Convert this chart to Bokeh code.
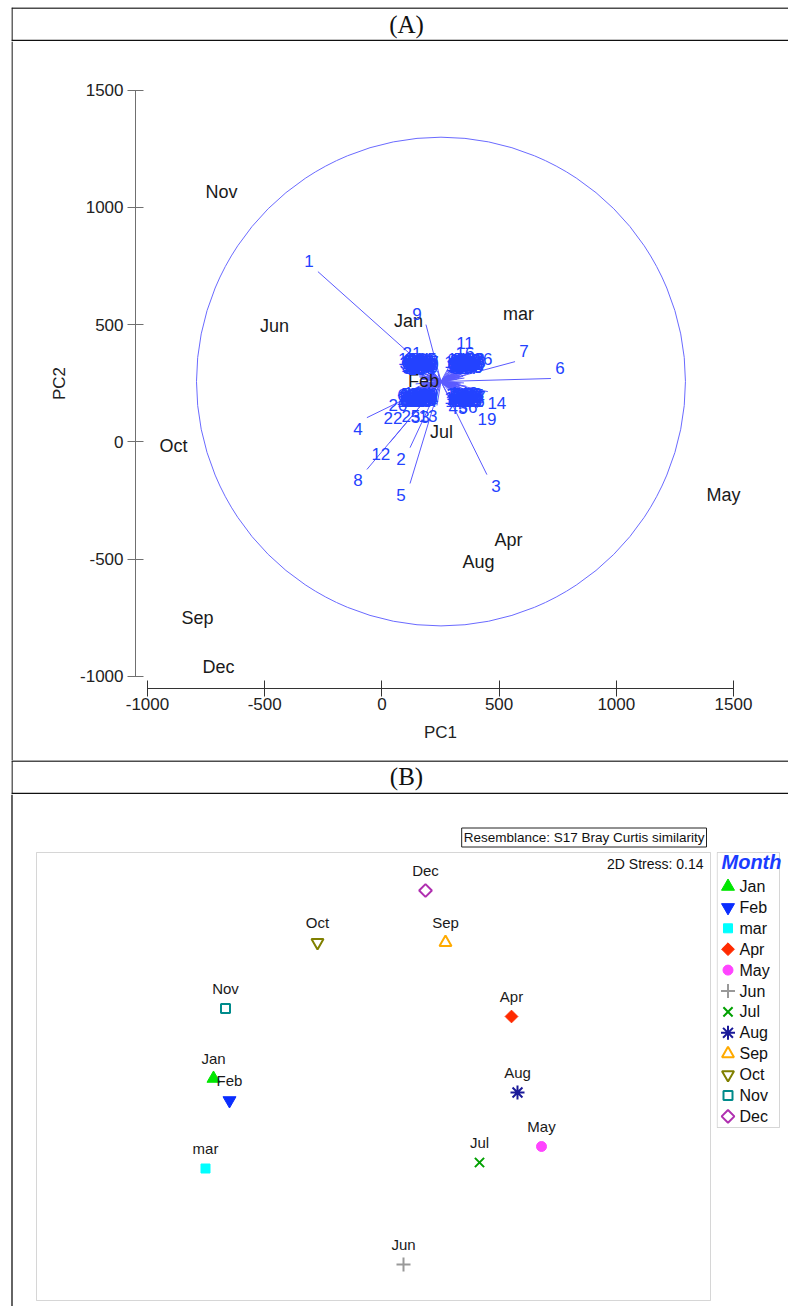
import math
from bokeh.plotting import figure
from bokeh.models import Range1d, ColumnDataSource, Label, BoxAnnotation, FixedTicker, Span
from bokeh.layouts import column, row
from bokeh.embed import file_html
from bokeh.resources import INLINE
from bokeh.core.properties import value

SANS = "Liberation Sans"
SERIF = "Liberation Serif"

# ---------------- data: panel (A) PCA biplot ----------------
months = ["Jan", "Feb", "mar", "Apr", "May", "Jun", "Jul", "Aug", "Sep", "Oct", "Nov", "Dec"]
pc1_scores = [114, 177, 583, 540, 1457, -458, 254, 412, -787, -889, -684, -697]
pc2_scores = [517, 261, 547, -417, -225, 496, 40, -511, -750, -20, 1064, -959]

circle_cx = 252
circle_cy = 257
circle_r = 1043

vec_labels = ["1", "2", "3", "4", "5", "6", "7", "8", "9", "11", "12", "13", "14", "16",
              "19", "20", "21", "22", "25", "26", "33", "36", "45",
              "10", "15", "17", "18", "23", "24", "27", "28", "29", "30", "31", "32", "34",
              "35", "37", "38", "39", "40", "41", "42", "43", "44", "46", "47", "48", "49",
              "50", "51", "52", "53", "54", "55", "56", "57", "58", "59", "60", "61", "62",
              "63", "64", "65", "66", "67", "68", "69", "70", "71", "72", "73", "74", "75",
              "76", "77", "78", "79", "80", "81", "82", "83", "84", "85", "86", "87", "88",
              "89", "90", "91",
              "92", "93", "94", "95", "96", "97", "98", "99", "100", "101", "102", "103",
              "104", "105", "106", "107", "108", "109", "110", "111", "112", "113", "114",
              "115", "116", "117", "118", "119", "120", "121", "122", "123", "124", "125",
              "126", "127", "128", "129", "130", "131", "132", "133", "134", "135", "136",
              "137", "138", "139", "140", "141", "142", "143", "144", "145", "146", "147",
              "148", "149", "150", "151", "152", "153", "154", "155", "156", "157", "158", "159"]
vec_dx = [-525, -132, 196, -316, -132, 469, 316, -316, -64, 64, -218, -17, 200, 64,
          158, -145, -85, -166, -90, 141, -50, 77, 34,
          -105, -92, -80, -70, -60, -50, -40, -30, -20, -15, -98, -85, -65, -55, -45, -35, -25, -12,
          30, 40, 50, 60, 70, 80, 90, 100, 108, 35, 45, 55, 65, 75, 85, 95, 105, 28,
          -108, -95, -85, -75, -62, -52, -42, -32, -22, -14, -100, -70, -48, -28, -18, -90,
          28, 38, 48, 58, 68, 78, 88, 98, 108, 33, 43, 53, 63, 73, 83, 103,
          -92, -88, -84, -80, -76, -72, -68, -64, -60, -56, -52, -48, -44, -40, -36, -32, -62,
          36, 40, 44, 48, 52, 56, 60, 64, 68, 72, 76, 80, 84, 88, 92, 50, 70,
          -92, -88, -84, -80, -76, -72, -68, -64, -60, -56, -52, -48, -44, -40, -36, -32, -58,
          36, 40, 44, 48, 52, 56, 60, 64, 68, 72, 76, 80, 84, 88, 92, 46, 66]
vec_dy = [469, -282, -397, -154, -435, 13, 85, -375, 243, 119, -260, -102, -43, 77,
          -111, -51, 77, -107, -98, 51, -106, -60, -64,
          48, 20, 40, 12, 30, 50, 15, 38, 25, 45, 32, 10, 45, 18, 35, 22, 10, 30,
          45, 20, 35, 12, 48, 25, 40, 15, 30, 28, 10, 50, 30, 18, 45, 22, 48, 14,
          -10, -30, -18, -36, -8, -25, -38, -14, -30, -6, -22, -28, -12, -22, -36, -6,
          -12, -30, -8, -22, -36, -14, -28, -6, -20, -38, -18, -32, -10, -26, -38, -34,
          25, 15, 42, 28, 50, 22, 35, 8, 42, 24, 46, 30, 8, 48, 16, 36, 20,
          35, 22, 50, 32, 18, 44, 26, 40, 10, 34, 46, 14, 30, 50, 36, 24, 42,
          -28, -36, -14, -38, -8, -26, -16, -34, -4, -28, -20, -34, -10, -20, -28, -14, -30,
          -24, -36, -6, -28, -38, -16, -4, -34, -20, -8, -36, -22, -10, -36, -18, -26, -10]

axis_ticks = [-1000, -500, 0, 500, 1000, 1500]

# ---------------- data: panel (B) nMDS ----------------
mds_x = [-0.80, -0.72, -0.84, 0.69, 0.84, 0.15, 0.53, 0.72, 0.36, -0.28, -0.74, 0.26]
mds_y = [-0.01, -0.12, -0.46, 0.30, -0.35, -0.94, -0.43, -0.08, 0.67, 0.67, 0.34, 0.93]
stress_text = "2D Stress: 0.14"
resemblance_text = "Resemblance: S17 Bray Curtis similarity"

# marker styles per month
m_marker = ["triangle", "inverted_triangle", "square", "square", "circle", "cross", "x",
            "asterisk", "triangle", "inverted_triangle", "square", "square"]
m_angle = [0, 0, 0, math.pi / 4, 0, 0, 0, 0, 0, 0, 0, math.pi / 4]
m_size = [13, 13, 9, 9, 10, 14, 13, 14, 12, 12, 9, 9]
m_color = ["#00e600", "#0a2dff", "#00ffff", "#ff2a00", "#ff44ff", "#999999", "#00a000",
           "#1a1a99", "#ffaa00", "#808000", "#008b8b", "#b030b0"]
m_fill_alpha = [1, 1, 1, 1, 1, 0, 0, 0, 0, 0, 0, 0]
m_line_width = [1, 1, 1, 1, 1, 2, 2, 2, 2, 2, 2, 2]

BORDER = "#111111"
BW = 1.3
W = 788
LEFT = 11  # page x of the table's left border


def bare(width, height, xr, yr, **kw):
    p = figure(width=width, height=height, x_range=xr, y_range=yr, min_border=0,
               toolbar_location=None, output_backend="svg", title=None,
               x_axis_location=None, y_axis_location=None, **kw)
    p.outline_line_color = None
    p.grid.visible = False
    return p


def border_v(x):
    return Span(location=x, dimension="height", line_color=BORDER, line_width=BW)


def border_h(y):
    return Span(location=y, dimension="width", line_color=BORDER, line_width=BW)


def header(txt, page_top, page_bottom, top_line, bottom_line, text_y, frame_top=0):
    h = page_bottom - page_top
    p = bare(W, h, Range1d(LEFT, W), Range1d(page_bottom, page_top + frame_top),
             min_border_left=LEFT, min_border_top=frame_top)
    p.add_layout(border_h(top_line))
    p.add_layout(border_h(bottom_line))
    p.add_layout(border_v(LEFT + 0.5))
    p.add_layout(Label(x=406, y=text_y, text=txt, text_align="center", text_baseline="middle",
                       text_font=SERIF, text_font_size="25px", text_color="#111111"))
    return p


hA = header("(A)", 0, 41, 7.5, 40, 23.5, frame_top=7)
hB = header("(B)", 760, 794, 760.5, 793, 776)

# ---------------- panel (A) ----------------
UPP = 500 / 117.2  # data units per pixel (equal aspect)
X0_PX, Y0_PX = 147, 675.7  # page pixel of (-1000, -1000)
xA = Range1d(-1000 + (LEFT - X0_PX) * UPP, -1000 + (W - X0_PX) * UPP)
yA = Range1d(-1000 - (760 - Y0_PX) * UPP, -1000 + (Y0_PX - 41) * UPP)
pA = figure(width=W, height=719, x_range=xA, y_range=yA, min_border=0, min_border_left=LEFT,
            title=None, toolbar_location=None, output_backend="svg",
            x_axis_label="PC1", y_axis_label="PC2")
pA.outline_line_color = None
pA.grid.visible = False
axis_pos = -1000 - 12 * UPP
for ax in (pA.xaxis[0], pA.yaxis[0]):
    ax.fixed_location = axis_pos
    ax.ticker = FixedTicker(ticks=axis_ticks)
    ax.major_label_overrides = {t: str(t) for t in axis_ticks}
    ax.bounds = (-1000, 1500)
    ax.major_tick_in = 8
    ax.major_tick_out = 8
    ax.minor_tick_line_color = None
    ax.major_label_text_font = SANS
    ax.major_label_text_font_size = "17px"
    ax.major_label_text_color = "#222222"
    ax.axis_label_text_font = SANS
    ax.axis_label_text_font_size = "17px"
    ax.axis_label_text_font_style = "normal"
    ax.axis_label_text_color = "#222222"
pA.yaxis.axis_line_color = "#707070"
pA.yaxis.major_tick_line_color = "#707070"
pA.xaxis.axis_line_color = "#333333"
pA.xaxis.major_tick_line_color = "#333333"
pA.yaxis.major_label_standoff = 4
pA.xaxis.major_label_standoff = 2
pA.yaxis.axis_label_standoff = 8
pA.xaxis.axis_label_standoff = 9

pA.add_layout(border_v(xA.start + 0.5 * UPP))

pA.circle(x=[circle_cx], y=[circle_cy], radius=circle_r, fill_color=None,
          line_color="#6a6aff", line_width=1)

tip_x = [circle_cx + d for d in vec_dx]
tip_y = [circle_cy + d for d in vec_dy]
x_off = [9 if d > 0 else -9 for d in vec_dx]
y_off = [-11 if d > 0 else 11 for d in vec_dy]
vsrc = ColumnDataSource(dict(x0=[circle_cx] * len(vec_dx), y0=[circle_cy] * len(vec_dy),
                             x1=tip_x, y1=tip_y, t=vec_labels, xo=x_off, yo=y_off))
pA.segment(x0="x0", y0="y0", x1="x1", y1="y1", source=vsrc, line_color="#5a5aff", line_width=1)

msrc = ColumnDataSource(dict(x=pc1_scores, y=pc2_scores, t=months))
pA.text(x="x", y="y", text="t", source=msrc, text_align="center", text_baseline="middle",
        text_font=value(SANS), text_font_size="18px", text_color="#1a1a1a")

pA.text(x="x1", y="y1", text="t", source=vsrc, x_offset="xo", y_offset="yo",
        text_align="center", text_baseline="middle", text_font=value(SANS),
        text_font_size="17px", text_color="#2342ff")

# ---------------- panel (B) ----------------
BS = 200.0  # pixels per MDS unit
BX0, BY0 = 373, 1076  # page pixel of MDS origin
BTOP, BH = 794, 512
xB = Range1d((0 - BX0) / BS, (716 - BX0) / BS)
yB = Range1d((BY0 - (BTOP + BH)) / BS, (BY0 - BTOP) / BS)
pB = bare(716, BH, xB, yB)

pB.add_layout(BoxAnnotation(left=(36 - BX0) / BS, right=(710 - BX0) / BS,
                            top=(BY0 - 852) / BS, bottom=(BY0 - 1300) / BS,
                            fill_color=None, fill_alpha=0, line_color="#777777", line_width=1))
pB.add_layout(border_v((LEFT + 0.5 - BX0) / BS))

bsrc = ColumnDataSource(dict(x=mds_x, y=mds_y, t=months, marker=m_marker, angle=m_angle,
                             size=m_size, color=m_color, fa=m_fill_alpha, lw=m_line_width))
pB.scatter(x="x", y="y", marker="marker", angle="angle", size="size", source=bsrc,
           fill_color="color", fill_alpha="fa", line_color="color", line_width="lw")
pB.text(x="x", y="y", text="t", source=bsrc, y_offset=-20, text_align="center",
        text_baseline="middle", text_font=value(SANS), text_font_size="15px",
        text_color="#1a1a1a")
pB.add_layout(Label(x=(703 - BX0) / BS, y=(BY0 - 863) / BS, text=stress_text, text_align="right",
                    text_baseline="middle", text_font=SANS, text_font_size="14px",
                    text_color="#111111"))
pB.add_layout(Label(x=(706 - BX0) / BS, y=(BY0 - 837) / BS, text=resemblance_text,
                    text_align="right", text_baseline="middle", text_font=SANS,
                    text_font_size="13.5px", text_color="#111111", padding=2,
                    border_line_color="#222222", border_line_width=1,
                    background_fill_color="white"))

# ---------------- legend panel ----------------
LW = W - 716
row_step = 20.9
ly_top = (886 - BTOP) / row_step
ly_bot = -(BTOP + BH - 886) / row_step
pL = bare(LW, BH, Range1d(0, LW), Range1d(ly_bot, ly_top))
pL.add_layout(BoxAnnotation(left=0.7, right=63, top=(886 - 852) / row_step,
                            bottom=-(1127 - 886) / row_step,
                            fill_color=None, fill_alpha=0, line_color="#777777", line_width=1))
row_y = [-i for i in range(len(months))]
lsrc = ColumnDataSource(dict(x=[11.5] * len(months), tx=[23] * len(months), y=row_y, t=months,
                             marker=m_marker, angle=m_angle, size=m_size, color=m_color,
                             fa=m_fill_alpha, lw=m_line_width))
pL.scatter(x="x", y="y", marker="marker", angle="angle", size="size", source=lsrc,
           fill_color="color", fill_alpha="fa", line_color="color", line_width="lw")
pL.text(x="tx", y="y", text="t", source=lsrc, text_align="left", text_baseline="middle",
        text_font=value(SANS), text_font_size="16px", text_color="#111111")
pL.add_layout(Label(x=5, y=1.15, text="Month", text_align="left", text_baseline="middle",
                    text_font=SANS, text_font_size="20px", text_font_style="bold italic",
                    text_color="#1a3cff"))

layout = column(hA, pA, hB, row(pB, pL))
open("out.html", "w").write(file_html(layout, INLINE))
